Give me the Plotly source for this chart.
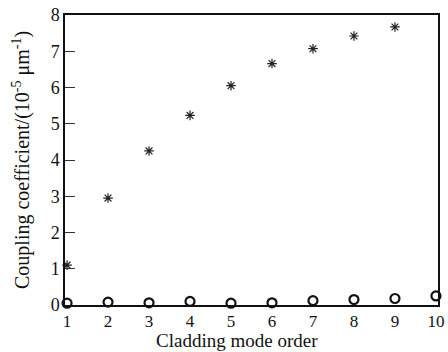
import plotly.graph_objects as go

mode_order = [1, 2, 3, 4, 5, 6, 7, 8, 9, 10]
star_x = [1, 2, 3, 4, 5, 6, 7, 8, 9]
star_vals = [1.1, 2.95, 4.25, 5.23, 6.05, 6.66, 7.07, 7.42, 7.67]
circle_vals = [0.05, 0.08, 0.06, 0.1, 0.05, 0.06, 0.12, 0.15, 0.18, 0.25]
y_ticks = [0, 1, 2, 3, 4, 5, 6, 7, 8]
x_title = "Cladding mode order"
y_title = "Coupling coefficient/(10<sup>-5</sup> μm<sup>-1</sup>)"

font = "Liberation Serif, Times New Roman, serif"

fig = go.Figure()
fig.add_trace(go.Scatter(
    x=star_x, y=star_vals, mode="markers",
    marker=dict(symbol="asterisk-open", size=8, color="#222", line=dict(width=1.2, color="#222")),
    cliponaxis=False, showlegend=False))
fig.add_trace(go.Scatter(
    x=mode_order, y=circle_vals, mode="markers",
    marker=dict(symbol="circle-open", size=9, color="#111", line=dict(width=2.2, color="#111")),
    cliponaxis=False, showlegend=False))

fig.update_layout(
    width=448, height=352,
    margin=dict(l=65, r=10, t=15, b=47, autoexpand=False),
    paper_bgcolor="white", plot_bgcolor="white",
    font=dict(family=font, size=18, color="#111"),
    xaxis=dict(range=[0.95, 10.05], tickvals=mode_order, ticks="", showgrid=False, zeroline=False,
               showline=True, linecolor="#111", linewidth=1.5, mirror=True,
               tickfont=dict(size=17), automargin=False),
    yaxis=dict(range=[0, 8], tickvals=y_ticks, ticks="inside", ticklen=10, tickcolor="#333",
               showgrid=False, zeroline=False,
               showline=True, linecolor="#111", linewidth=1.5, mirror=True,
               tickfont=dict(size=18), automargin=False),
    annotations=[
        dict(text=x_title, xref="paper", yref="paper", x=0.46, y=0, yshift=-35,
             xanchor="center", yanchor="middle", showarrow=False, font=dict(size=19)),
        dict(text=y_title, xref="paper", yref="paper", x=0, xshift=-44, y=0.5, textangle=-90,
             xanchor="center", yanchor="middle", showarrow=False, font=dict(size=20)),
    ],
)

fig.write_html("out.html", config={"displayModeBar": False},
               post_script="document.body.style.margin='0';document.body.style.overflow='hidden';")
